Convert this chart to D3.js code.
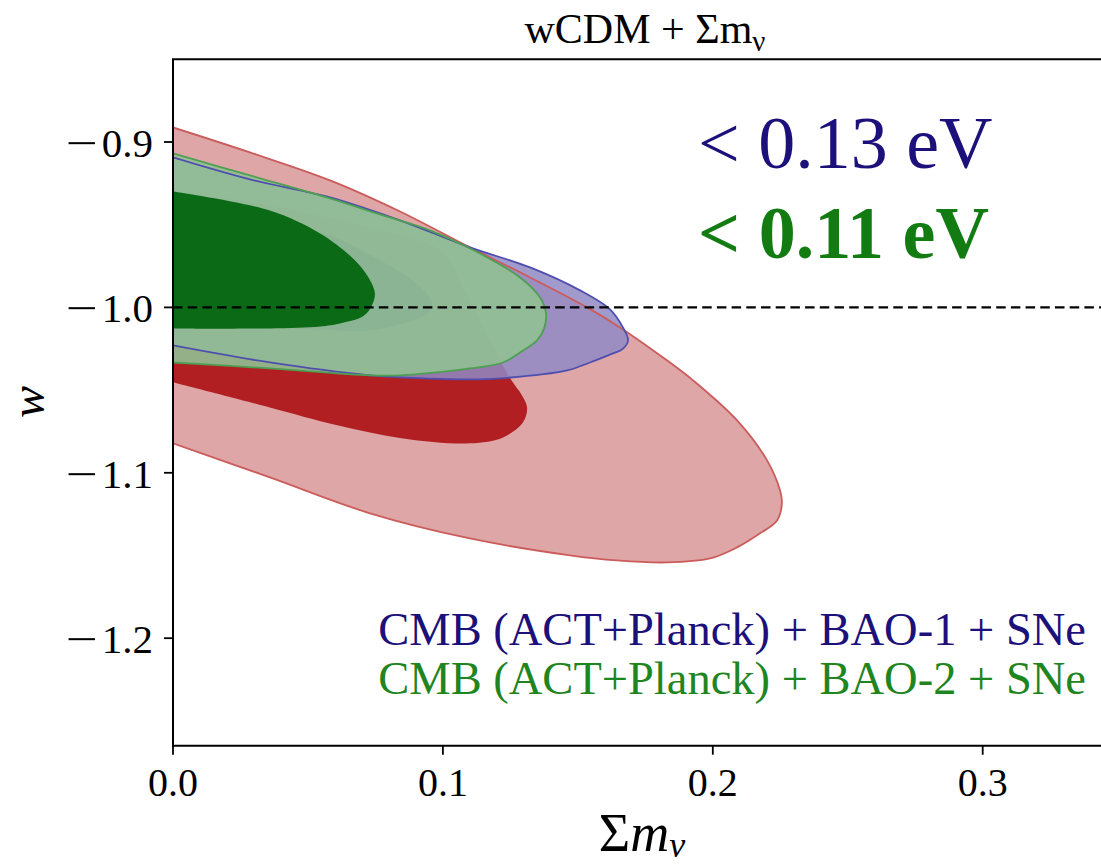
<!DOCTYPE html>
<html>
<head>
<meta charset="utf-8">
<script src="https://cdn.jsdelivr.net/npm/d3@7"></script>
<style>
  html, body { margin: 0; padding: 0; background: #ffffff; }
  svg { display: block; }
  text { font-family: "Liberation Serif", "Times New Roman", serif; }
</style>
</head>
<body>
<svg id="chart" width="1101" height="867"></svg>
<script>
// Axis settings (sum of neutrino masses vs dark-energy equation of state w)
const xTicks = [0.0, 0.1, 0.2, 0.3];
const xTickLabels = ["0.0", "0.1", "0.2", "0.3"];
const yTicks = [-0.9, -1.0, -1.1, -1.2];
const yTickLabels = ["0.9", "1.0", "1.1", "1.2"];
const xDomain = [0, 0.35];
const yDomain = [-1.265, -0.85];
const wReference = -1.0;

// Posterior contours, [sum m_nu (eV), w]; each path starts and ends on the m_nu = 0 prior edge
const redOuter = [[0,-0.8912],[0.0285,-0.9063],[0.0582,-0.9232],[0.0841,-0.9420],[0.1100,-0.9637],[0.1323,-0.9819],[0.1534,-1.0000],[0.1656,-1.0121],[0.1830,-1.0320],[0.1927,-1.0441],[0.2090,-1.0683],[0.2201,-1.0925],[0.2249,-1.1106],[0.2256,-1.1185],[0.2238,-1.1288],[0.2175,-1.1366],[0.2090,-1.1451],[0.1990,-1.1518],[0.1830,-1.1542],[0.1645,-1.1530],[0.1471,-1.1499],[0.1100,-1.1397],[0.0730,-1.1245],[0.0359,-1.1028],[0,-1.0822]];
const redInner = [[0,-0.9293],[0.0359,-0.9383],[0.0730,-0.9522],[0.1000,-0.9667],[0.1078,-0.9897],[0.1175,-1.0200],[0.1249,-1.0429],[0.1293,-1.0532],[0.1312,-1.0605],[0.1297,-1.0695],[0.1223,-1.0786],[0.1100,-1.0822],[0.0852,-1.0792],[0.0608,-1.0713],[0.0359,-1.0605],[0,-1.0453]];
const blueOuter = [[0,-0.9093],[0.0285,-0.9226],[0.0582,-0.9335],[0.0841,-0.9474],[0.1100,-0.9637],[0.1323,-0.9758],[0.1508,-0.9897],[0.1619,-1.0012],[0.1667,-1.0121],[0.1686,-1.0200],[0.1664,-1.0254],[0.1630,-1.0278],[0.1545,-1.0333],[0.1460,-1.0381],[0.1212,-1.0429],[0.1100,-1.0435],[0.0841,-1.0423],[0.0730,-1.0411],[0.0359,-1.0333],[0,-1.0230]];
const blueInner = [[0,-0.9329],[0.0285,-0.9432],[0.0582,-0.9565],[0.0767,-0.9716],[0.0889,-0.9837],[0.0945,-0.9927],[0.0960,-0.9988],[0.0945,-1.0036],[0.0889,-1.0079],[0.0730,-1.0139],[0.0582,-1.0136],[0.0396,-1.0121],[0.0211,-1.0085],[0,-1.0048]];
const greenOuter = [[0,-0.9069],[0.0285,-0.9202],[0.0582,-0.9341],[0.0767,-0.9438],[0.0952,-0.9534],[0.1137,-0.9674],[0.1286,-0.9819],[0.1360,-0.9940],[0.1382,-1.0036],[0.1375,-1.0127],[0.1349,-1.0200],[0.1286,-1.0272],[0.1223,-1.0333],[0.1100,-1.0369],[0.0978,-1.0393],[0.0841,-1.0411],[0.0730,-1.0411],[0.0359,-1.0369],[0,-1.0333]];
const greenInner = [[0,-0.9299],[0.0359,-0.9414],[0.0545,-0.9553],[0.0667,-0.9704],[0.0722,-0.9813],[0.0748,-0.9915],[0.0737,-0.9988],[0.0704,-1.0054],[0.0619,-1.0097],[0.0545,-1.0115],[0.0359,-1.0127],[0,-1.0127]];

// Upper limits quoted on the plot (95%)
const limitLabels = ["< 0.13 eV", "< 0.11 eV"];
const legendLabels = ["CMB (ACT+Planck) + BAO-1 + SNe", "CMB (ACT+Planck) + BAO-2 + SNe"];

const svg = d3.select("#chart");
const plotLeft = 173, plotTop = 59.3, plotBottom = 745.7;
const x = d3.scaleLinear().domain(xDomain).range([plotLeft, plotLeft + 0.35 * 2699]);
const y = d3.scaleLinear().domain(yDomain).range([plotBottom, plotTop]);

svg.append("defs").append("clipPath").attr("id", "plotclip")
  .append("rect").attr("x", plotLeft).attr("y", plotTop)
  .attr("width", x(xDomain[1]) - plotLeft).attr("height", plotBottom - plotTop);

const plot = svg.append("g").attr("clip-path", "url(#plotclip)");

const contourLine = d3.line()
  .x(d => x(d[0])).y(d => y(d[1]))
  .curve(d3.curveCatmullRom.alpha(0.5));
const closed = pts => contourLine(pts) + "Z";

// Filled regions, drawn back to front
const fills = [
  { pts: redOuter,   fill: "#dea6a6", op: 1.0 },
  { pts: redInner,   fill: "#b11f22", op: 1.0 },
  { pts: blueOuter,  fill: "rgb(144,137,196)", op: 0.85 },
  { pts: blueInner,  fill: "rgb(60,50,140)", op: 0.7 },
  { pts: greenOuter, fill: "rgb(145,192,148)", op: 0.9 },
  { pts: greenInner, fill: "rgb(0,100,12)", op: 0.93 }
];
plot.selectAll("path.fill").data(fills).enter().append("path")
  .attr("class", "fill")
  .attr("d", d => closed(d.pts))
  .attr("fill", d => d.fill)
  .attr("fill-opacity", d => d.op)
  .attr("stroke", "none");

// Outer contour edges on top
const edges = [
  { pts: redOuter,   color: "#cc5c5c" },
  { pts: blueOuter,  color: "#4e4eae" },
  { pts: greenOuter, color: "#4d9f52" }
];
plot.selectAll("path.edge").data(edges).enter().append("path")
  .attr("class", "edge")
  .attr("d", d => closed(d.pts))
  .attr("fill", "none")
  .attr("stroke", d => d.color)
  .attr("stroke-width", 1.8)
  .attr("stroke-linejoin", "round");

// w = -1 reference line
plot.append("line")
  .attr("x1", plotLeft).attr("x2", 1101)
  .attr("y1", y(wReference)).attr("y2", y(wReference))
  .attr("stroke", "#000").attr("stroke-width", 2.4)
  .attr("stroke-dasharray", "9.5,5.2");

// Spines
svg.append("line").attr("x1", plotLeft).attr("x2", plotLeft).attr("y1", plotTop).attr("y2", plotBottom)
  .attr("stroke", "#000").attr("stroke-width", 2);
svg.append("line").attr("x1", plotLeft - 1).attr("x2", 1101).attr("y1", plotBottom).attr("y2", plotBottom)
  .attr("stroke", "#000").attr("stroke-width", 2);
svg.append("line").attr("x1", plotLeft - 1).attr("x2", 1101).attr("y1", plotTop).attr("y2", plotTop)
  .attr("stroke", "#000").attr("stroke-width", 2);

// X axis ticks and labels
const xAxis = svg.append("g");
xAxis.selectAll("line").data(xTicks).enter().append("line")
  .attr("x1", d => x(d)).attr("x2", d => x(d))
  .attr("y1", plotBottom).attr("y2", plotBottom + 9)
  .attr("stroke", "#000").attr("stroke-width", 1.8);
xAxis.selectAll("text").data(xTicks).enter().append("text")
  .attr("x", d => x(d)).attr("y", 796)
  .attr("text-anchor", "middle")
  .attr("font-size", 40).attr("fill", "#000")
  .text((d, i) => xTickLabels[i]);

// Y axis ticks and labels (long math-style minus sign)
const yAxis = svg.append("g");
yAxis.selectAll("line").data(yTicks).enter().append("line")
  .attr("x1", plotLeft - 9).attr("x2", plotLeft)
  .attr("y1", d => y(d)).attr("y2", d => y(d))
  .attr("stroke", "#000").attr("stroke-width", 1.8);
const yl = yAxis.selectAll("text").data(yTicks).enter().append("text")
  .attr("x", 153).attr("y", d => y(d) + 15)
  .attr("text-anchor", "end")
  .attr("font-size", 41).attr("fill", "#000");
yl.append("tspan").attr("textLength", 32).attr("lengthAdjust", "spacingAndGlyphs").text("\u2212");
yl.append("tspan").attr("dx", 4).text((d, i) => yTickLabels[i]);

// Title
const title = svg.append("text")
  .attr("x", 645).attr("y", 43)
  .attr("text-anchor", "middle").attr("font-size", 42).attr("fill", "#000");
title.append("tspan").text("wCDM + \u03A3m");
title.append("tspan").attr("font-size", 29).attr("dy", 8).text("\u03BD");

// Axis labels
const xl = svg.append("text")
  .attr("x", 642).attr("y", 851)
  .attr("text-anchor", "middle").attr("font-size", 54).attr("fill", "#000");
xl.append("tspan").text("\u03A3");
xl.append("tspan").attr("font-style", "italic").text("m");
xl.append("tspan").attr("font-style", "italic").attr("font-size", 36).attr("dy", 6).text("\u03BD");

svg.append("text")
  .attr("transform", "translate(44,402) rotate(-90)")
  .attr("text-anchor", "middle")
  .attr("font-size", 48).attr("font-style", "italic").attr("fill", "#000")
  .text("w");

// Quoted upper limits
svg.append("text").attr("x", 698).attr("y", 168)
  .attr("font-size", 74).attr("fill", "#1c107a")
  .text(limitLabels[0]);
svg.append("text").attr("x", 698).attr("y", 258)
  .attr("font-size", 74).attr("font-weight", "bold").attr("fill", "#127c12")
  .text(limitLabels[1]);

// Legend text
svg.append("text").attr("x", 1086).attr("y", 645)
  .attr("text-anchor", "end").attr("font-size", 46.5).attr("fill", "#1c107a")
  .text(legendLabels[0]);
svg.append("text").attr("x", 1086).attr("y", 694)
  .attr("text-anchor", "end").attr("font-size", 46.5).attr("fill", "#1f851f")
  .text(legendLabels[1]);
</script>
</body>
</html>
